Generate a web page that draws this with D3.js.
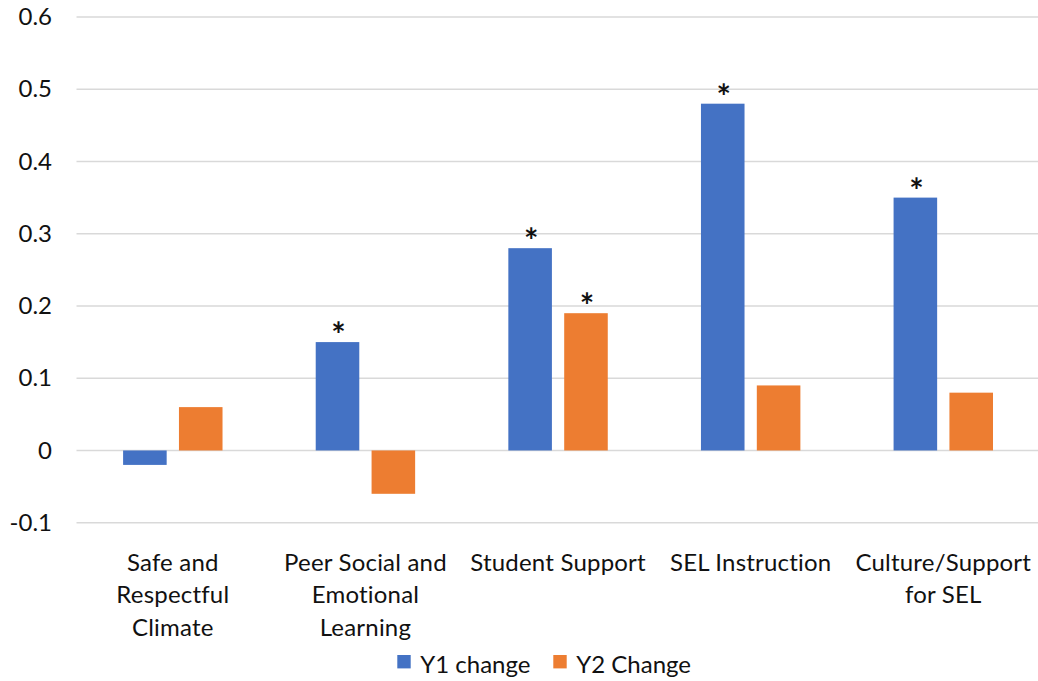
<!DOCTYPE html>
<html>
<head>
<meta charset="utf-8">
<script src="https://cdn.jsdelivr.net/npm/d3@7"></script>
<style>
  html, body { margin: 0; padding: 0; background: #fff; }
  svg { display: block; }
  text { font-family: Lato, "Open Sans", sans-serif; fill: #111; }
</style>
</head>
<body>
<svg id="chart" width="1038" height="681"></svg>
<script>
// Domain areas (each label split into display lines)
const categories = [
  "Safe and Respectful Climate",
  "Peer Social and Emotional Learning",
  "Student Support",
  "SEL Instruction",
  "Culture/Support for SEL"
];
const categoryLines = [
  ["Safe and", "Respectful", "Climate"],
  ["Peer Social and", "Emotional", "Learning"],
  ["Student Support"],
  ["SEL Instruction"],
  ["Culture/Support", "for SEL"]
];
const seriesNames = ["Y1 change", "Y2 Change"];
const y1Values = [-0.02, 0.15, 0.28, 0.48, 0.35];
const y2Values = [0.06, -0.06, 0.19, 0.09, 0.08];
// significance flags (asterisk above the bar)
const y1Significant = [false, true, true, true, true];
const y2Significant = [false, false, true, false, false];
const yTicks = [-0.1, 0, 0.1, 0.2, 0.3, 0.4, 0.5, 0.6];

const colors = { "Y1 change": "#4472C4", "Y2 Change": "#ED7D31" };

const svg = d3.select("#chart");

const plot = { left: 76.5, right: 1039.6, top: 17, bottom: 522.7 };

const y = d3.scaleLinear()
  .domain([-0.1, 0.6])
  .range([plot.bottom, plot.top]);

const x0 = d3.scaleBand()
  .domain(categories)
  .range([plot.left, plot.right])
  .padding(0);

const groupInset = 46.6;
const x1 = d3.scaleBand()
  .domain(seriesNames)
  .range([groupInset, x0.bandwidth() - groupInset])
  .paddingInner(0.22)
  .paddingOuter(0);

// gridlines
svg.append("g")
  .selectAll("line")
  .data(yTicks)
  .join("line")
  .attr("x1", plot.left)
  .attr("x2", 1038)
  .attr("y1", d => y(d))
  .attr("y2", d => y(d))
  .attr("stroke", "#D9D9D9")
  .attr("stroke-width", 1.5);

// y axis labels (plain hyphen for negatives)
const yAxis = d3.axisLeft(y)
  .tickValues(yTicks)
  .tickSize(0)
  .tickPadding(0)
  .tickFormat(d => d === 0 ? "0" : (d < 0 ? "-" : "") + Math.abs(d).toFixed(1));

const yg = svg.append("g")
  .attr("transform", "translate(52,0)")
  .call(yAxis);
yg.select(".domain").remove();
yg.selectAll("text")
  .attr("font-size", 24)
  .attr("font-family", "Lato, 'Open Sans', sans-serif")
  .attr("fill", "#111");

// bars
const rows = categories.map((c, i) => ({
  category: c,
  values: [
    { series: seriesNames[0], value: y1Values[i], sig: y1Significant[i] },
    { series: seriesNames[1], value: y2Values[i], sig: y2Significant[i] }
  ]
}));

const groups = svg.append("g")
  .selectAll("g")
  .data(rows)
  .join("g")
  .attr("transform", d => `translate(${x0(d.category)},0)`);

groups.selectAll("rect")
  .data(d => d.values)
  .join("rect")
  .attr("x", d => x1(d.series))
  .attr("width", x1.bandwidth())
  .attr("y", d => y(Math.max(0, d.value)))
  .attr("height", d => Math.abs(y(d.value) - y(0)))
  .attr("fill", d => colors[d.series]);

groups.selectAll("text.sig")
  .data(d => d.values.filter(v => v.sig))
  .join("text")
  .attr("class", "sig")
  .attr("x", d => x1(d.series) + x1.bandwidth() / 2 + 1)
  .attr("y", d => y(d.value) + 5)
  .attr("text-anchor", "middle")
  .attr("font-size", 34)
  .attr("font-weight", "bold")
  .text("*");

// category labels
const catLabels = svg.append("g")
  .selectAll("text")
  .data(categories)
  .join("text")
  .attr("x", d => x0(d) + x0.bandwidth() / 2)
  .attr("y", 570.5)
  .attr("text-anchor", "middle")
  .attr("font-size", 24)
  .attr("letter-spacing", 0.2);

catLabels.selectAll("tspan")
  .data((d, i) => categoryLines[i])
  .join("tspan")
  .attr("x", function () { return d3.select(this.parentNode).attr("x"); })
  .attr("dy", (d, i) => i === 0 ? 0 : 32.7)
  .text(d => d);

// legend
const legendItems = [
  { name: seriesNames[0], x: 397.3 },
  { name: seriesNames[1], x: 553.3 }
];
const legend = svg.append("g")
  .selectAll("g")
  .data(legendItems)
  .join("g")
  .attr("transform", d => `translate(${d.x},655)`);
legend.append("rect")
  .attr("width", 13.4)
  .attr("height", 13.4)
  .attr("fill", d => colors[d.name]);
legend.append("text")
  .attr("x", 23)
  .attr("y", 17.5)
  .attr("font-size", 24)
  .text(d => d.name);
</script>
</body>
</html>
